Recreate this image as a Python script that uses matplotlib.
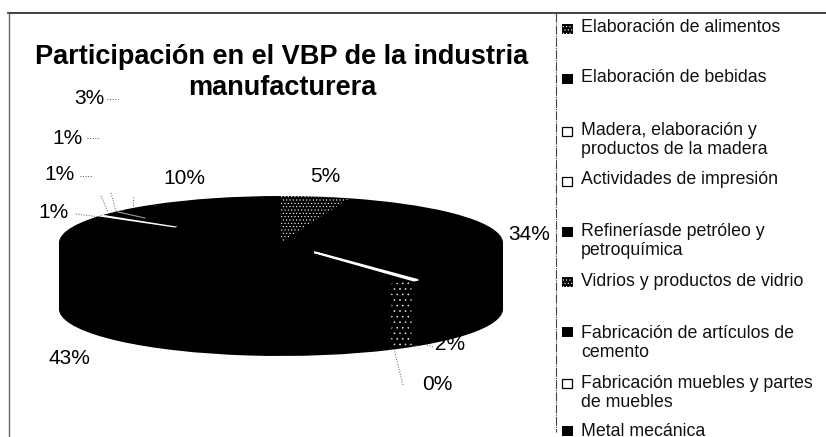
import matplotlib
matplotlib.use('Agg')
import matplotlib.pyplot as plt
import numpy as np
from matplotlib.patches import Rectangle

plt.rcParams['font.family'] = ['Liberation Sans', 'DejaVu Sans']
plt.rcParams['hatch.linewidth'] = 0.4

title_lines = ["Participación en el VBP de la industria", "manufacturera"]
# clockwise from the top, small slices kept thin as in the picture
values = [5, 34.4, 0.4, 1.8, 43, 0.6, 1, 1, 3, 9.8]
pct_labels = ['5%', '34%', '0%', '2%', '43%', '1%', '1%', '1%', '3%', '10%']
fills = ['hatch', 'black', 'white', 'hatch', 'black', 'white', 'black', 'black', 'black', 'black']
legend_names = ['Elaboración de alimentos', 'Elaboración de bebidas',
                'Madera, elaboración y\nproductos de la madera', 'Actividades de impresión',
                'Refineríasde petróleo y\npetroquímica', 'Vidrios y productos de vidrio',
                'Fabricación de artículos de\ncemento', 'Fabricación muebles y partes\nde muebles',
                'Metal mecánica']
legend_fills = ['hatch', 'black', 'white', 'white', 'black', 'hatch', 'black', 'white', 'black']

W, H = 826, 437
cx, cy, rx, ry, depth = 281, 243, 222, 47, 66

fig = plt.figure(figsize=(W / 100, H / 100), dpi=100)
ax = fig.add_axes([(cx - rx) / W, 1 - (cy + ry + depth) / H, 2 * rx / W, (2 * ry + depth) / H])


def draw_pie(center_y, faces):
    wedges, _ = ax.pie(values, colors=faces, startangle=90, counterclock=False,
                       center=(0, center_y), radius=1,
                       wedgeprops={'linewidth': 0})
    return wedges


# side of the pie, then the top face; the 2% slice is only dotted on its side
layers = np.linspace(depth / ry, 0, 40)
for i, d in enumerate(layers):
    wedges = draw_pie(-d, ['black'] * len(values))
    top = i == len(layers) - 1
    for k, (w, f) in enumerate(zip(wedges, fills)):
        if f == 'hatch' and not (k == 3 and top):
            w.set_hatch('.....' if top else '...')
            w.set_edgecolor('white')

# white slices only show towards the rim
rim = draw_pie(0, ['white' if f == 'white' else 'none' for f in fills])
rim[2].set_width(0.75)
rim[2].set_edgecolor('white')
rim[2].set_linewidth(1.2)
rim[5].set_width(0.42)

ax.set_aspect('auto')
ax.set_xlim(-1, 1)
ax.set_ylim(-1 - depth / ry, 1)

# overlay in pixel coordinates for frame, text and legend
ov = fig.add_axes([0, 0, 1, 1], zorder=5)
ov.set_xlim(0, W)
ov.set_ylim(H, 0)
ov.axis('off')
ov.patch.set_alpha(0)

ov.plot([8, W], [13, 13], color='#222222', lw=1.2)
ov.plot([9, 9], [13, H], color='#666666', lw=1)
ov.plot([556, 556], [13, 432], color='#444444', lw=0.8, ls=(0, (8, 1, 1, 1)))

for line, y in zip(title_lines, [57, 88]):
    ov.text(282, y, line, ha='center', va='center', fontsize=19.5, fontweight='bold', color='black')

label_pos = [(325, 177), (529, 234), (437, 385), (450, 345), (69, 359),
             (53, 213), (60, 175), (68, 138), (89, 98), (184, 179)]
for s, (x, y) in zip(pct_labels, label_pos):
    ov.text(x, y, s, ha='center', va='center', fontsize=15, color='black')

leaders = [([107, 120], [99, 99]), ([87, 100], [138, 138]), ([80, 92], [176, 176]),
           ([76, 100], [214, 217]), ([394, 403], [349, 385]), ([427, 433], [345, 347]),
           ([101, 108], [196, 212]), ([111, 116], [193, 211]), ([133, 133], [197, 207])]
for xs, ys in leaders:
    ov.plot(xs, ys, color='#555555', lw=0.7, ls=':')
ov.plot([118, 145], [212, 218], color='#999999', lw=0.8)

legend_y = [29, 79, 131, 181, 232, 282, 332, 383, 431]
text_y = [28, 78, 140, 180, 241, 281, 343, 393, 431]
for name, f, sy, ty in zip(legend_names, legend_fills, legend_y, text_y):
    if f == 'hatch':
        ov.add_patch(Rectangle((562, sy - 5), 11, 10, facecolor='black', edgecolor='white',
                               hatch='.....', lw=0))
    elif f == 'white':
        ov.add_patch(Rectangle((562, sy - 4), 10, 9, facecolor='white', edgecolor='black', lw=0.9))
    else:
        ov.add_patch(Rectangle((562, sy - 5), 11, 10, facecolor='black', edgecolor='black', lw=0))
    ov.text(581, ty, name, ha='left', va='center', fontsize=12.8, color='#111111', linespacing=1.15)

fig.savefig('out.png', dpi=100)
